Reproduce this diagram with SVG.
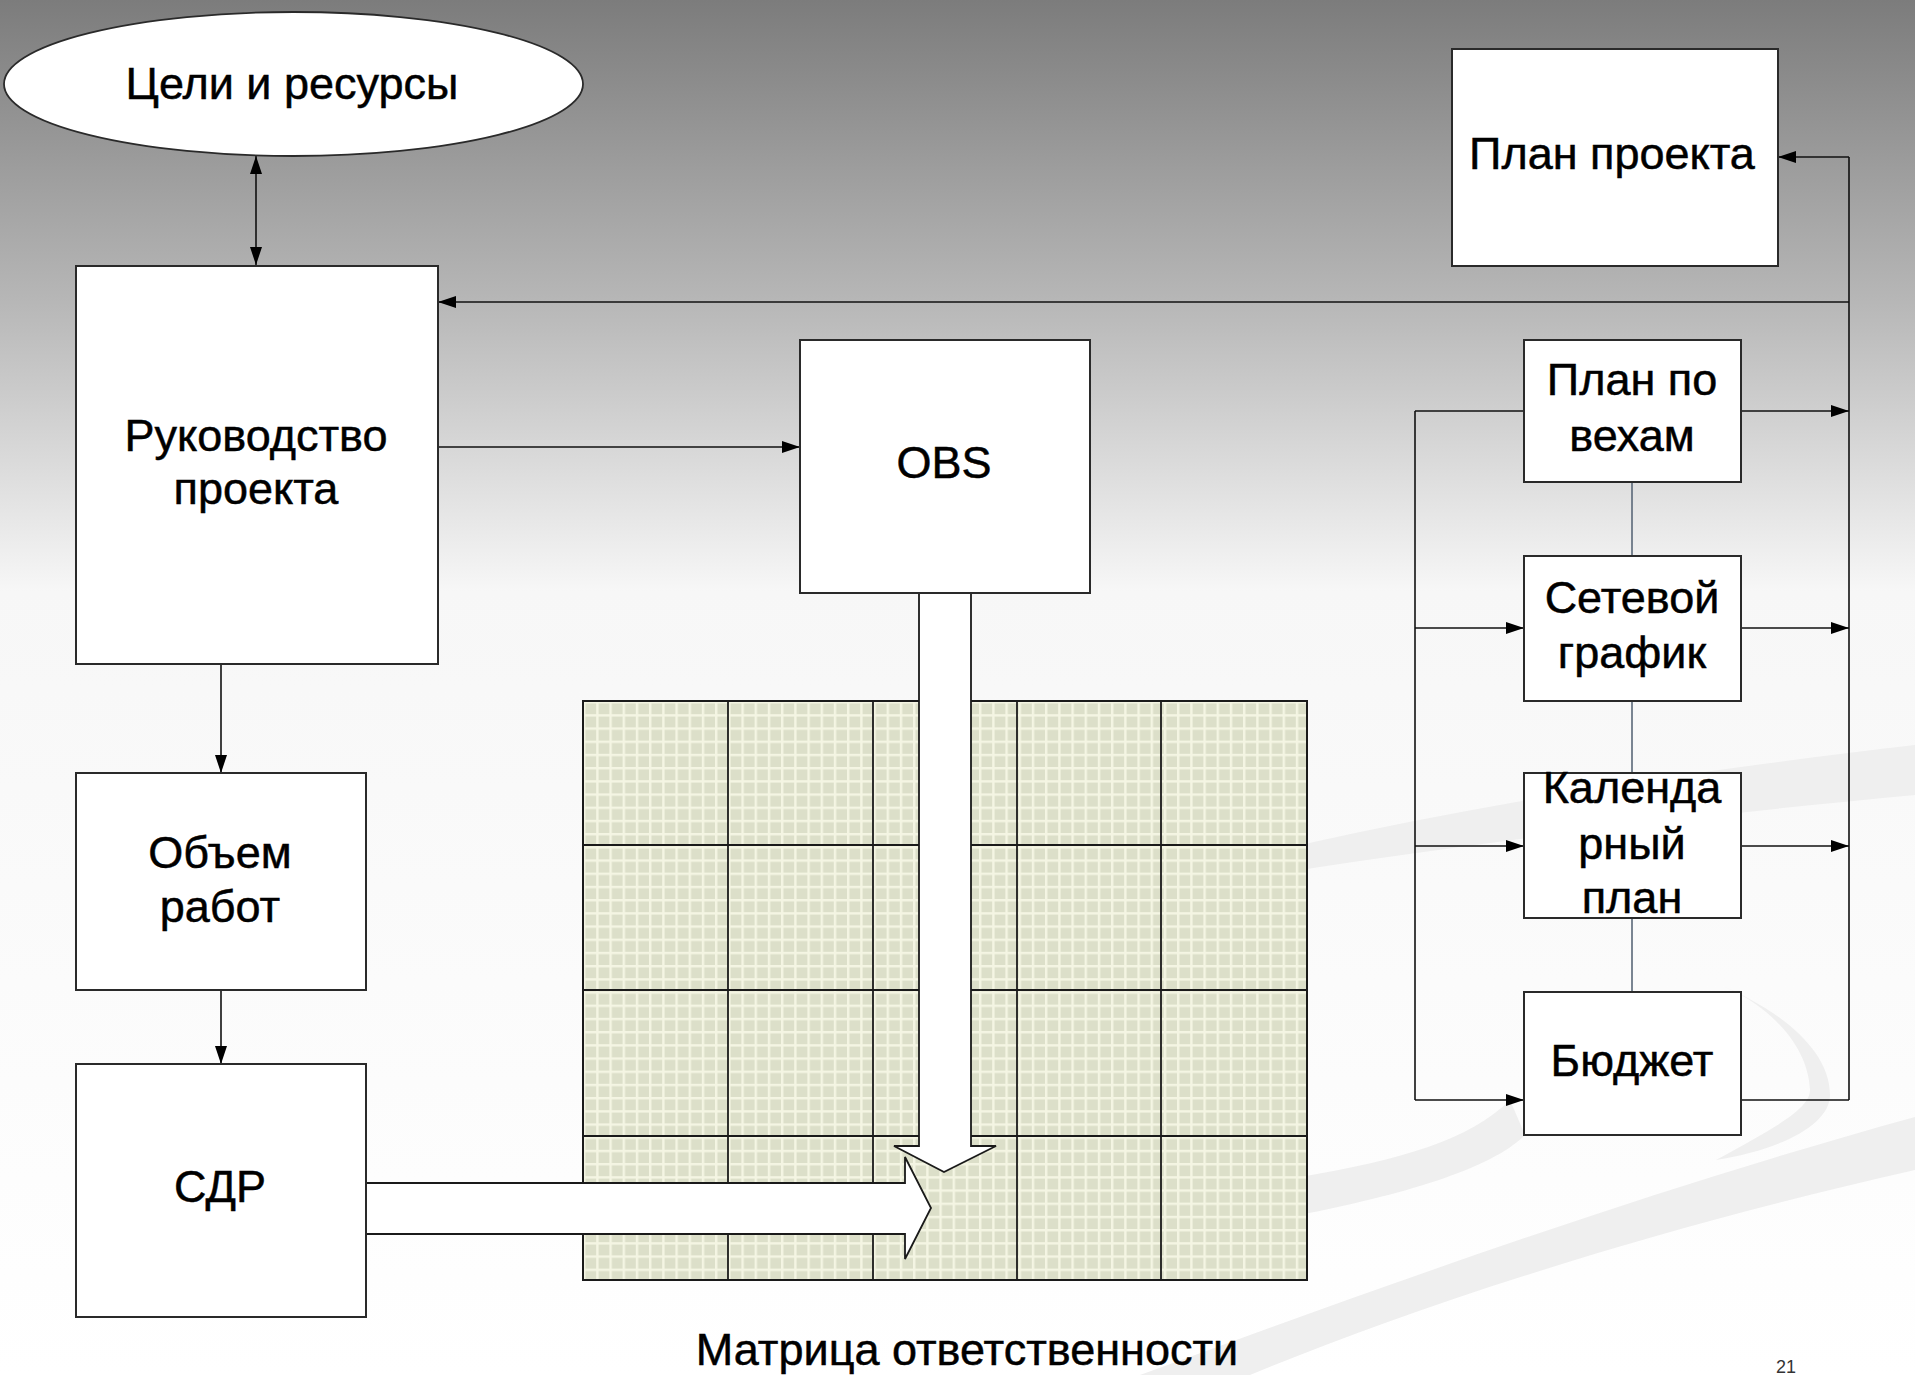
<svg xmlns="http://www.w3.org/2000/svg" width="1915" height="1375" viewBox="0 0 1915 1375">
<style>
.box{fill:#ffffff;stroke:#2a2a2a;stroke-width:2}
.t{font-family:"Liberation Sans",Arial,"Noto Sans",sans-serif;font-size:45px;fill:#000;stroke:#000;stroke-width:0.5;text-anchor:middle}
.ln{fill:none;stroke:#111;stroke-width:1.6}
.lnm{fill:none;stroke:#5a6878;stroke-width:1.6}
.maj{stroke:#1a1a1a;stroke-width:1.8}
.hollow{fill:#ffffff;stroke:none}
.hout{fill:none;stroke:#1a1a1a;stroke-width:1.8;stroke-linejoin:miter}
.sw{fill:#efefef}
</style>
<defs>
<linearGradient id="bg" x1="0" y1="0" x2="0" y2="1375" gradientUnits="userSpaceOnUse">
<stop offset="0" stop-color="#7c7c7c"/>
<stop offset="0.22" stop-color="#b7b7b7"/>
<stop offset="0.43" stop-color="#f7f7f7"/>
<stop offset="1" stop-color="#ffffff"/>
</linearGradient>
<pattern id="grid" patternUnits="userSpaceOnUse" x="583" y="701" width="13.2" height="13.2">
<rect width="13.2" height="13.2" fill="#dcdfc9"/>
<rect width="2.4" height="13.2" fill="#f4f5e3"/>
<rect width="13.2" height="2.4" fill="#f4f5e3"/>
</pattern>
<marker id="ah" markerUnits="userSpaceOnUse" markerWidth="18" markerHeight="12" refX="18" refY="6" orient="auto-start-reverse">
<path d="M0,0 L18,6 L0,12 z" fill="#000"/>
</marker>
</defs>

<rect x="0" y="0" width="1915" height="1375" fill="url(#bg)"/>

<g id="decor">
<path class="sw" d="M1300,845 C1500,800 1700,770 1915,745 L1915,795 C1700,815 1500,840 1300,870 Z"/>
<path class="sw" d="M1525,1135 C1490,1170 1400,1195 1300,1215 L1300,1177 C1400,1160 1470,1140 1510,1100 Z"/>
<path class="sw" d="M1716,1160 C1770,1130 1810,1110 1810,1090 C1808,1040 1760,1000 1720,985 C1780,1010 1830,1050 1830,1095 C1830,1125 1780,1150 1716,1160 Z"/>
<path class="sw" d="M1140,1375 C1400,1280 1650,1190 1915,1117 L1915,1170 C1650,1230 1420,1305 1250,1375 Z"/>
</g>

<g id="matrix">
<rect x="583" y="701" width="724" height="579" fill="url(#grid)"/>
<line class="maj" x1="728" y1="701" x2="728" y2="1280"/>
<line class="maj" x1="873" y1="701" x2="873" y2="1280"/>
<line class="maj" x1="1017" y1="701" x2="1017" y2="1280"/>
<line class="maj" x1="1161" y1="701" x2="1161" y2="1280"/>
<line class="maj" x1="583" y1="845" x2="1307" y2="845"/>
<line class="maj" x1="583" y1="990" x2="1307" y2="990"/>
<line class="maj" x1="583" y1="1136" x2="1307" y2="1136"/>
<rect x="583" y="701" width="724" height="579" fill="none" stroke="#1a1a1a" stroke-width="2"/>
</g>

<g id="connectors">
<line class="ln" x1="256" y1="156" x2="256" y2="265" marker-start="url(#ah)" marker-end="url(#ah)"/>
<polyline class="ln" points="1849,302 438,302" marker-end="url(#ah)"/>
<polyline class="ln" points="1849,157 1778,157" marker-end="url(#ah)"/>
<line class="ln" x1="1849" y1="157" x2="1849" y2="1100"/>
<line class="ln" x1="438" y1="447" x2="800" y2="447" marker-end="url(#ah)"/>
<line class="ln" x1="221" y1="664" x2="221" y2="773" marker-end="url(#ah)"/>
<line class="ln" x1="221" y1="990" x2="221" y2="1064" marker-end="url(#ah)"/>
<line class="ln" x1="1415" y1="411" x2="1415" y2="1100"/>
<line class="ln" x1="1415" y1="411" x2="1524" y2="411"/>
<line class="ln" x1="1415" y1="628" x2="1524" y2="628" marker-end="url(#ah)"/>
<line class="ln" x1="1415" y1="846" x2="1524" y2="846" marker-end="url(#ah)"/>
<line class="ln" x1="1415" y1="1100" x2="1524" y2="1100" marker-end="url(#ah)"/>
<line class="ln" x1="1741" y1="411" x2="1849" y2="411" marker-end="url(#ah)"/>
<line class="ln" x1="1741" y1="628" x2="1849" y2="628" marker-end="url(#ah)"/>
<line class="ln" x1="1741" y1="846" x2="1849" y2="846" marker-end="url(#ah)"/>
<line class="ln" x1="1741" y1="1100" x2="1849" y2="1100"/>
<line class="lnm" x1="1632" y1="482" x2="1632" y2="556"/>
<line class="lnm" x1="1632" y1="701" x2="1632" y2="773"/>
<line class="lnm" x1="1632" y1="918" x2="1632" y2="992"/>
</g>

<g id="arrow-sdr">
<path class="hollow" d="M366,1183 L905,1183 L905,1157 L931,1208 L905,1259 L905,1234 L366,1234 Z"/>
<path class="hout" d="M366,1183 L905,1183 L905,1157 L931,1208 L905,1259 L905,1234 L366,1234"/>
</g>
<g id="arrow-obs">
<path class="hollow" d="M919,593 L919,1146 L894,1146 L944,1172 L996,1146 L971,1146 L971,593 Z"/>
<path class="hout" d="M919,593 L919,1146 L894,1146 L944,1172 L996,1146 L971,1146 L971,593"/>
</g>

<g id="goals">
<ellipse cx="293.5" cy="84" rx="289.5" ry="72" fill="#fff" stroke="#2a2a2a" stroke-width="1.8"/>
<text class="t" x="292" y="99">Цели и ресурсы</text>
</g>
<g id="management">
<rect class="box" x="76" y="266" width="362" height="398"/>
<text class="t" x="256" y="451">Руководство</text>
<text class="t" x="256" y="504">проекта</text>
</g>
<g id="obs">
<rect class="box" x="800" y="340" width="290" height="253"/>
<text class="t" x="944" y="478">OBS</text>
</g>
<g id="scope">
<rect class="box" x="76" y="773" width="290" height="217"/>
<text class="t" x="220" y="868">Объем</text>
<text class="t" x="220" y="922">работ</text>
</g>
<g id="wbs">
<rect class="box" x="76" y="1064" width="290" height="253"/>
<text class="t" x="220" y="1202">СДР</text>
</g>
<g id="project-plan">
<rect class="box" x="1452" y="49" width="326" height="217"/>
<text class="t" x="1612" y="169">План проекта</text>
</g>
<g id="milestones">
<rect class="box" x="1524" y="340" width="217" height="142"/>
<text class="t" x="1632" y="395">План по</text>
<text class="t" x="1632" y="451">вехам</text>
</g>
<g id="network">
<rect class="box" x="1524" y="556" width="217" height="145"/>
<text class="t" x="1632" y="613">Сетевой</text>
<text class="t" x="1632" y="668">график</text>
</g>
<g id="calendar">
<rect class="box" x="1524" y="773" width="217" height="145"/>
<text class="t" x="1632" y="803">Календа</text>
<text class="t" x="1632" y="859">рный</text>
<text class="t" x="1632" y="913">план</text>
</g>
<g id="budget">
<rect class="box" x="1524" y="992" width="217" height="143"/>
<text class="t" x="1632" y="1076">Бюджет</text>
</g>
<g id="captions">
<text class="t" x="967" y="1365">Матрица ответственности</text>
<text x="1776" y="1373" style="font-family:'Liberation Sans',Arial,sans-serif;font-size:18px;fill:#333">21</text>
</g>
</svg>
